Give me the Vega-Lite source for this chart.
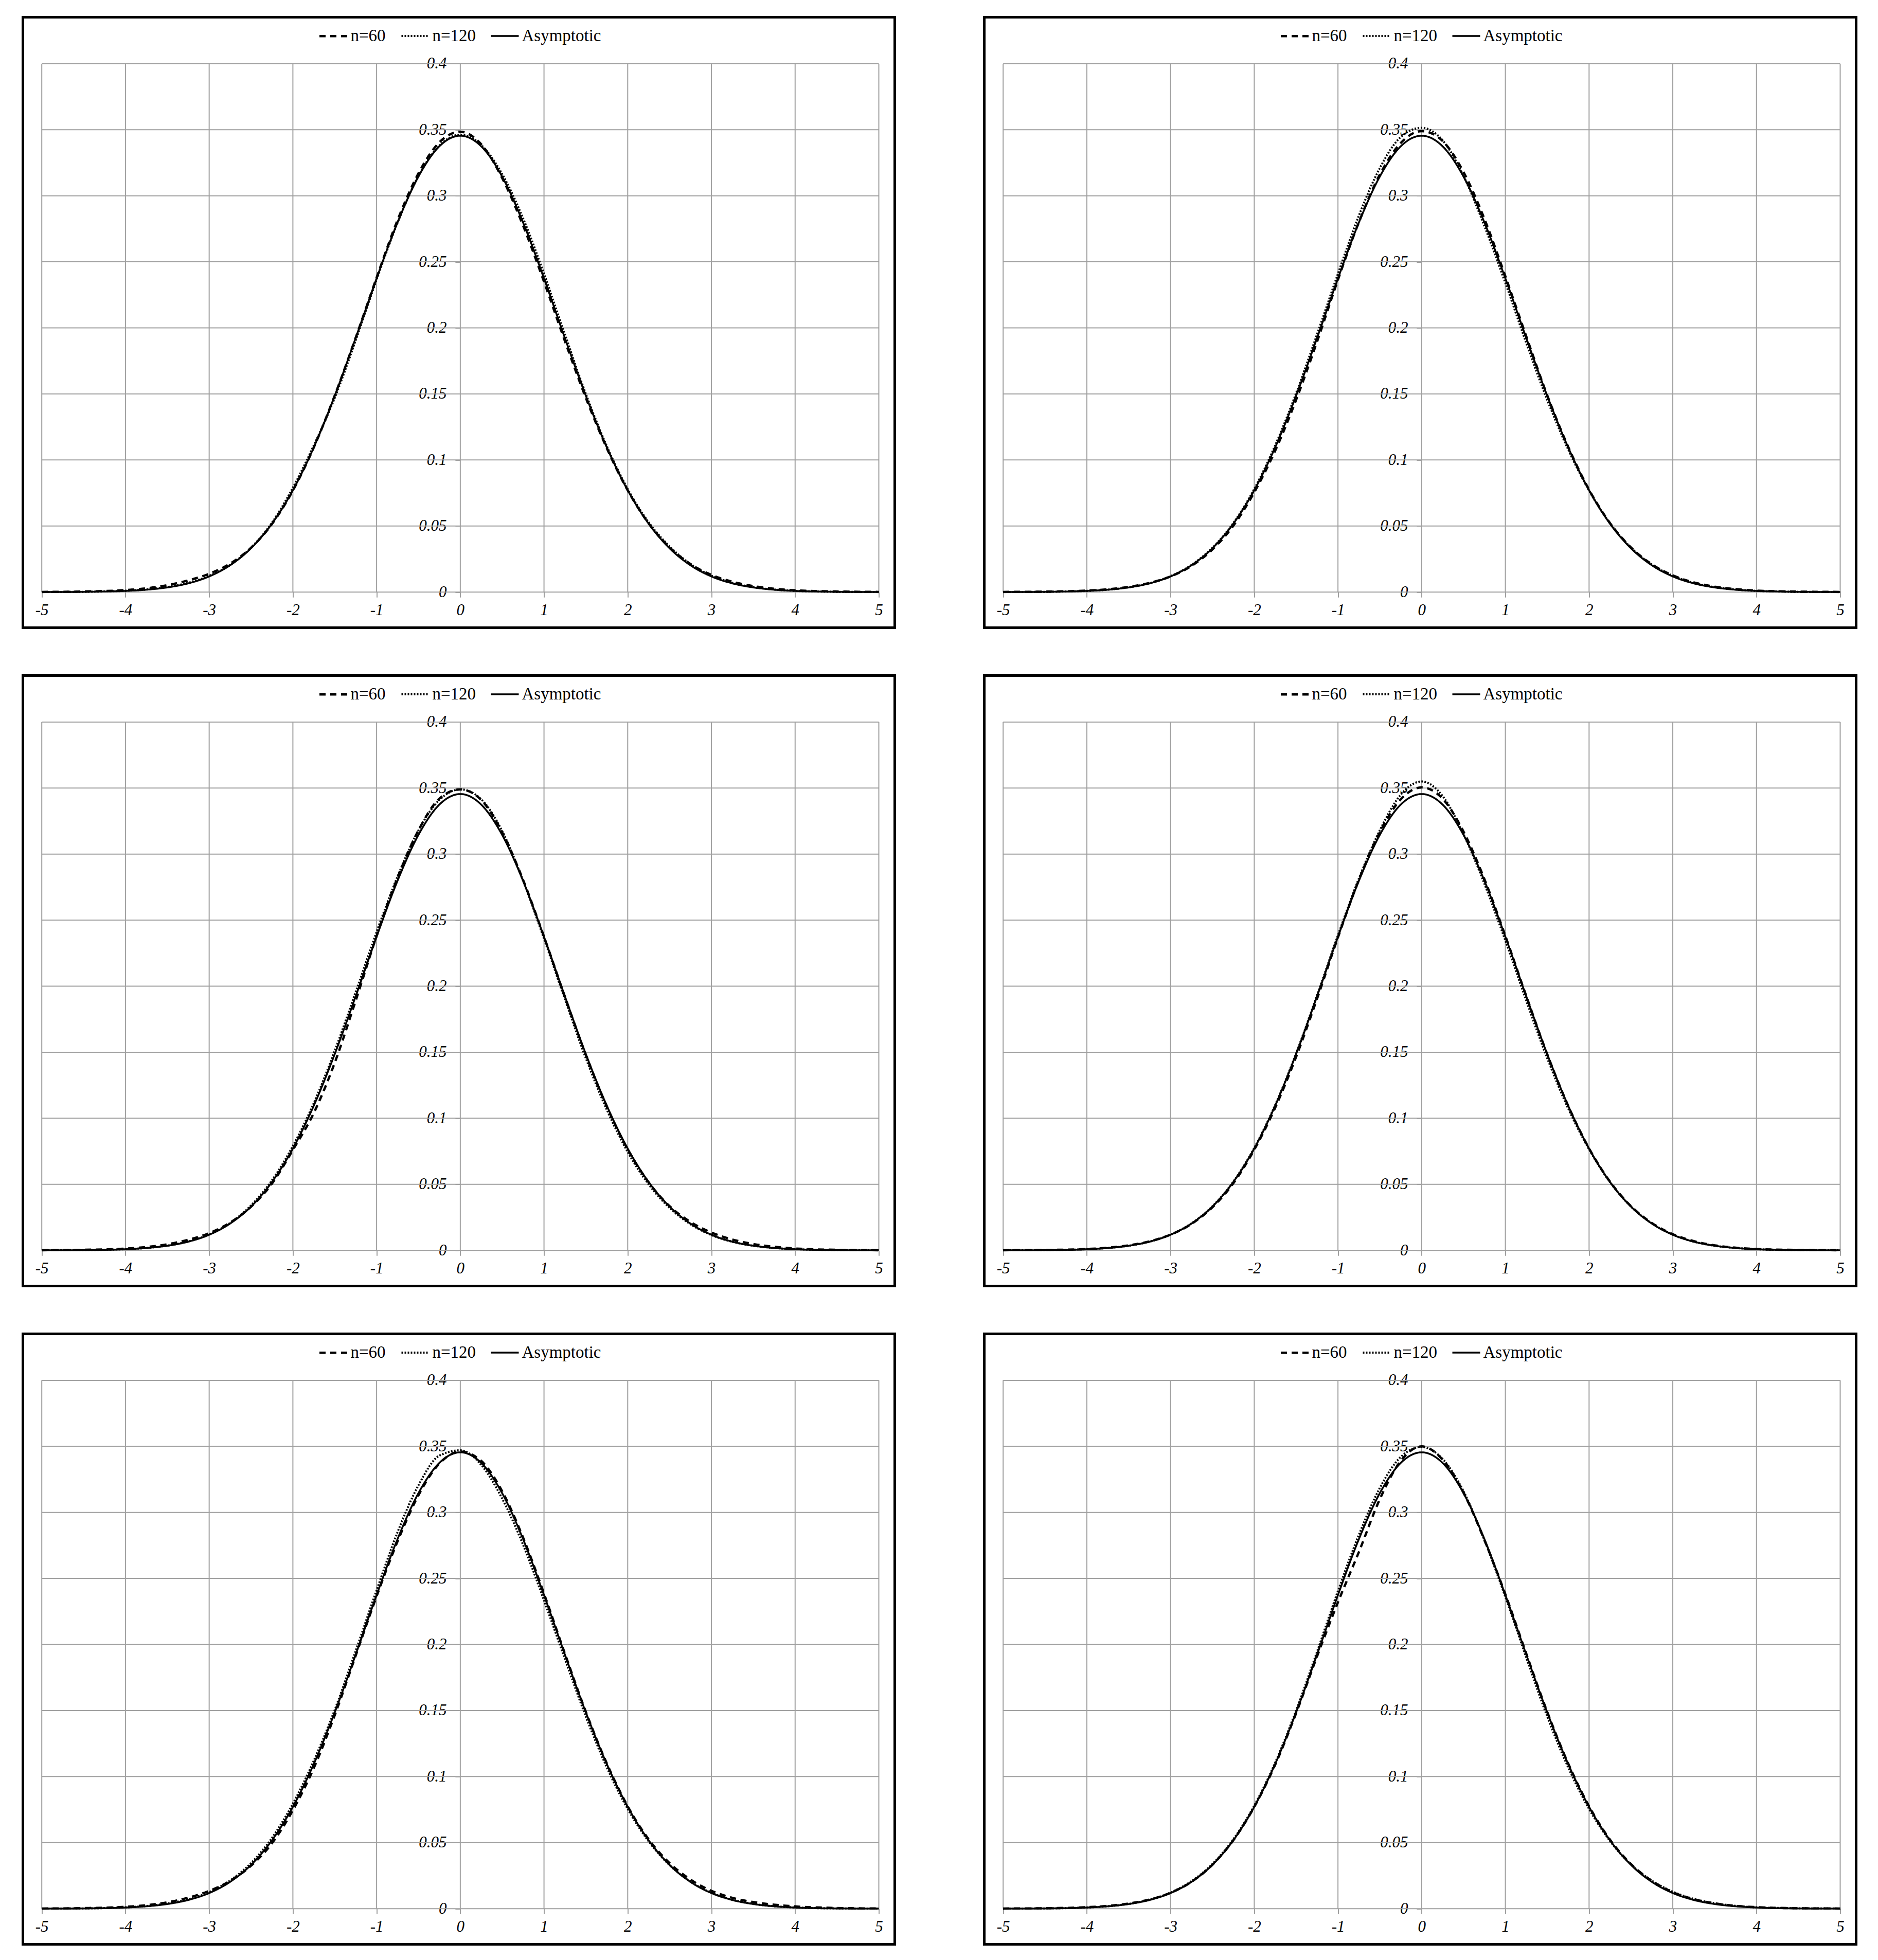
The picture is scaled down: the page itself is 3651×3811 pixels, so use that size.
{
"$schema":"https://vega.github.io/schema/vega-lite/v6.json",
"padding":{"left":41.5,"top":30.5,"right":0,"bottom":0},
"background":"white",
"datasets":{
"grid":[
{"x1":-5,"x2":-5,"y1":0,"y2":0.4},{"x1":-4,"x2":-4,"y1":0,"y2":0.4},{"x1":-3,"x2":-3,"y1":0,"y2":0.4},{"x1":-2,"x2":-2,"y1":0,"y2":0.4},{"x1":-1,"x2":-1,"y1":0,"y2":0.4},{"x1":0,"x2":0,"y1":0,"y2":0.4},{"x1":1,"x2":1,"y1":0,"y2":0.4},{"x1":2,"x2":2,"y1":0,"y2":0.4},{"x1":3,"x2":3,"y1":0,"y2":0.4},{"x1":4,"x2":4,"y1":0,"y2":0.4},{"x1":5,"x2":5,"y1":0,"y2":0.4},
{"x1":-5,"x2":5,"y1":0,"y2":0},{"x1":-5,"x2":5,"y1":0.05,"y2":0.05},{"x1":-5,"x2":5,"y1":0.1,"y2":0.1},{"x1":-5,"x2":5,"y1":0.15,"y2":0.15},{"x1":-5,"x2":5,"y1":0.2,"y2":0.2},{"x1":-5,"x2":5,"y1":0.25,"y2":0.25},{"x1":-5,"x2":5,"y1":0.3,"y2":0.3},{"x1":-5,"x2":5,"y1":0.35,"y2":0.35},{"x1":-5,"x2":5,"y1":0.4,"y2":0.4}
],
"curves":[
{"p":1,"x":-5,"n=60":0.0001,"n=120":0.00005,"Asymptotic":0.00003},
{"p":1,"x":-4.5,"n=60":0.0004,"n=120":0.0002,"Asymptotic":0.00017},
{"p":1,"x":-4,"n=60":0.0015,"n=120":0.001,"Asymptotic":0.00086},
{"p":1,"x":-3.75,"n=60":0.0028,"n=120":0.002,"Asymptotic":0.00177},
{"p":1,"x":-3.5,"n=60":0.0052,"n=120":0.0038,"Asymptotic":0.00349},
{"p":1,"x":-3.25,"n=60":0.0088,"n=120":0.007,"Asymptotic":0.00658},
{"p":1,"x":-3,"n=60":0.0138,"n=120":0.0122,"Asymptotic":0.01182},
{"p":1,"x":-2.75,"n=60":0.0215,"n=120":0.0205,"Asymptotic":0.02027},
{"p":1,"x":-2.5,"n=60":0.0335,"n=120":0.0335,"Asymptotic":0.03316},
{"p":1,"x":-2.25,"n=60":0.0515,"n=120":0.0525,"Asymptotic":0.05176},
{"p":1,"x":-2,"n=60":0.0768,"n=120":0.079,"Asymptotic":0.07709},
{"p":1,"x":-1.75,"n=60":0.1095,"n=120":0.111,"Asymptotic":0.10957},
{"p":1,"x":-1.5,"n=60":0.1488,"n=120":0.147,"Asymptotic":0.1486},
{"p":1,"x":-1.25,"n=60":0.1925,"n=120":0.1905,"Asymptotic":0.1923},
{"p":1,"x":-1,"n=60":0.238,"n=120":0.2365,"Asymptotic":0.23745},
{"p":1,"x":-0.75,"n=60":0.2815,"n=120":0.2795,"Asymptotic":0.27978},
{"p":1,"x":-0.5,"n=60":0.317,"n=120":0.315,"Asymptotic":0.31457},
{"p":1,"x":-0.25,"n=60":0.3405,"n=120":0.338,"Asymptotic":0.33749},
{"p":1,"x":0,"n=60":0.3485,"n=120":0.3462,"Asymptotic":0.34549},
{"p":1,"x":0.25,"n=60":0.339,"n=120":0.3385,"Asymptotic":0.33749},
{"p":1,"x":0.5,"n=60":0.3135,"n=120":0.3165,"Asymptotic":0.31457},
{"p":1,"x":0.75,"n=60":0.2775,"n=120":0.283,"Asymptotic":0.27978},
{"p":1,"x":1,"n=60":0.235,"n=120":0.241,"Asymptotic":0.23745},
{"p":1,"x":1.25,"n=60":0.19,"n=120":0.195,"Asymptotic":0.1923},
{"p":1,"x":1.5,"n=60":0.147,"n=120":0.15,"Asymptotic":0.1486},
{"p":1,"x":1.75,"n=60":0.109,"n=120":0.1105,"Asymptotic":0.10957},
{"p":1,"x":2,"n=60":0.077,"n=120":0.078,"Asymptotic":0.07709},
{"p":1,"x":2.25,"n=60":0.052,"n=120":0.0528,"Asymptotic":0.05176},
{"p":1,"x":2.5,"n=60":0.0338,"n=120":0.0345,"Asymptotic":0.03316},
{"p":1,"x":2.75,"n=60":0.0212,"n=120":0.0212,"Asymptotic":0.02027},
{"p":1,"x":3,"n=60":0.013,"n=120":0.0124,"Asymptotic":0.01182},
{"p":1,"x":3.25,"n=60":0.0078,"n=120":0.007,"Asymptotic":0.00658},
{"p":1,"x":3.5,"n=60":0.0045,"n=120":0.0037,"Asymptotic":0.00349},
{"p":1,"x":3.75,"n=60":0.0025,"n=120":0.0019,"Asymptotic":0.00177},
{"p":1,"x":4,"n=60":0.0013,"n=120":0.0009,"Asymptotic":0.00086},
{"p":1,"x":4.5,"n=60":0.0004,"n=120":0.0002,"Asymptotic":0.00017},
{"p":1,"x":5,"n=60":0.0001,"n=120":0.00005,"Asymptotic":0.00003},

{"p":2,"x":-5,"n=60":0.0001,"n=120":0.00005,"Asymptotic":0.00003},
{"p":2,"x":-4.5,"n=60":0.0003,"n=120":0.0002,"Asymptotic":0.00017},
{"p":2,"x":-4,"n=60":0.0011,"n=120":0.0009,"Asymptotic":0.00086},
{"p":2,"x":-3.75,"n=60":0.0021,"n=120":0.0018,"Asymptotic":0.00177},
{"p":2,"x":-3.5,"n=60":0.0039,"n=120":0.0036,"Asymptotic":0.00349},
{"p":2,"x":-3.25,"n=60":0.0069,"n=120":0.0067,"Asymptotic":0.00658},
{"p":2,"x":-3,"n=60":0.0118,"n=120":0.012,"Asymptotic":0.01182},
{"p":2,"x":-2.75,"n=60":0.0198,"n=120":0.0205,"Asymptotic":0.02027},
{"p":2,"x":-2.5,"n=60":0.0322,"n=120":0.0335,"Asymptotic":0.03316},
{"p":2,"x":-2.25,"n=60":0.0502,"n=120":0.0522,"Asymptotic":0.05176},
{"p":2,"x":-2,"n=60":0.0755,"n=120":0.078,"Asymptotic":0.07709},
{"p":2,"x":-1.75,"n=60":0.107,"n=120":0.111,"Asymptotic":0.10957},
{"p":2,"x":-1.5,"n=60":0.1455,"n=120":0.1505,"Asymptotic":0.1486},
{"p":2,"x":-1.25,"n=60":0.1895,"n=120":0.195,"Asymptotic":0.1923},
{"p":2,"x":-1,"n=60":0.2365,"n=120":0.241,"Asymptotic":0.23745},
{"p":2,"x":-0.75,"n=60":0.28,"n=120":0.285,"Asymptotic":0.27978},
{"p":2,"x":-0.5,"n=60":0.316,"n=120":0.321,"Asymptotic":0.31457},
{"p":2,"x":-0.25,"n=60":0.34,"n=120":0.3445,"Asymptotic":0.33749},
{"p":2,"x":0,"n=60":0.349,"n=120":0.3515,"Asymptotic":0.34549},
{"p":2,"x":0.25,"n=60":0.3415,"n=120":0.342,"Asymptotic":0.33749},
{"p":2,"x":0.5,"n=60":0.318,"n=120":0.315,"Asymptotic":0.31457},
{"p":2,"x":0.75,"n=60":0.2825,"n=120":0.277,"Asymptotic":0.27978},
{"p":2,"x":1,"n=60":0.239,"n=120":0.234,"Asymptotic":0.23745},
{"p":2,"x":1.25,"n=60":0.1935,"n=120":0.1885,"Asymptotic":0.1923},
{"p":2,"x":1.5,"n=60":0.149,"n=120":0.1455,"Asymptotic":0.1486},
{"p":2,"x":1.75,"n=60":0.11,"n=120":0.108,"Asymptotic":0.10957},
{"p":2,"x":2,"n=60":0.0775,"n=120":0.0768,"Asymptotic":0.07709},
{"p":2,"x":2.25,"n=60":0.0522,"n=120":0.052,"Asymptotic":0.05176},
{"p":2,"x":2.5,"n=60":0.0338,"n=120":0.0336,"Asymptotic":0.03316},
{"p":2,"x":2.75,"n=60":0.021,"n=120":0.0208,"Asymptotic":0.02027},
{"p":2,"x":3,"n=60":0.0126,"n=120":0.0123,"Asymptotic":0.01182},
{"p":2,"x":3.25,"n=60":0.0073,"n=120":0.0069,"Asymptotic":0.00658},
{"p":2,"x":3.5,"n=60":0.0041,"n=120":0.0037,"Asymptotic":0.00349},
{"p":2,"x":3.75,"n=60":0.0022,"n=120":0.0019,"Asymptotic":0.00177},
{"p":2,"x":4,"n=60":0.0011,"n=120":0.0009,"Asymptotic":0.00086},
{"p":2,"x":4.5,"n=60":0.0003,"n=120":0.0002,"Asymptotic":0.00017},
{"p":2,"x":5,"n=60":0.0001,"n=120":0.00005,"Asymptotic":0.00003},

{"p":3,"x":-5,"n=60":0.0001,"n=120":0.00005,"Asymptotic":0.00003},
{"p":3,"x":-4.5,"n=60":0.0004,"n=120":0.0002,"Asymptotic":0.00017},
{"p":3,"x":-4,"n=60":0.0013,"n=120":0.0009,"Asymptotic":0.00086},
{"p":3,"x":-3.75,"n=60":0.0025,"n=120":0.0018,"Asymptotic":0.00177},
{"p":3,"x":-3.5,"n=60":0.0046,"n=120":0.0036,"Asymptotic":0.00349},
{"p":3,"x":-3.25,"n=60":0.008,"n=120":0.0067,"Asymptotic":0.00658},
{"p":3,"x":-3,"n=60":0.013,"n=120":0.012,"Asymptotic":0.01182},
{"p":3,"x":-2.75,"n=60":0.021,"n=120":0.0207,"Asymptotic":0.02027},
{"p":3,"x":-2.5,"n=60":0.033,"n=120":0.034,"Asymptotic":0.03316},
{"p":3,"x":-2.25,"n=60":0.0505,"n=120":0.053,"Asymptotic":0.05176},
{"p":3,"x":-2,"n=60":0.076,"n=120":0.079,"Asymptotic":0.07709},
{"p":3,"x":-1.75,"n=60":0.104,"n=120":0.1115,"Asymptotic":0.10957},
{"p":3,"x":-1.5,"n=60":0.142,"n=120":0.151,"Asymptotic":0.1486},
{"p":3,"x":-1.25,"n=60":0.189,"n=120":0.1955,"Asymptotic":0.1923},
{"p":3,"x":-1,"n=60":0.238,"n=120":0.241,"Asymptotic":0.23745},
{"p":3,"x":-0.75,"n=60":0.282,"n=120":0.283,"Asymptotic":0.27978},
{"p":3,"x":-0.5,"n=60":0.318,"n=120":0.318,"Asymptotic":0.31457},
{"p":3,"x":-0.25,"n=60":0.342,"n=120":0.341,"Asymptotic":0.33749},
{"p":3,"x":0,"n=60":0.349,"n=120":0.349,"Asymptotic":0.34549},
{"p":3,"x":0.25,"n=60":0.341,"n=120":0.3415,"Asymptotic":0.33749},
{"p":3,"x":0.5,"n=60":0.3165,"n=120":0.3175,"Asymptotic":0.31457},
{"p":3,"x":0.75,"n=60":0.2805,"n=120":0.28,"Asymptotic":0.27978},
{"p":3,"x":1,"n=60":0.2375,"n=120":0.236,"Asymptotic":0.23745},
{"p":3,"x":1.25,"n=60":0.192,"n=120":0.19,"Asymptotic":0.1923},
{"p":3,"x":1.5,"n=60":0.148,"n=120":0.1455,"Asymptotic":0.1486},
{"p":3,"x":1.75,"n=60":0.109,"n=120":0.1065,"Asymptotic":0.10957},
{"p":3,"x":2,"n=60":0.0765,"n=120":0.0745,"Asymptotic":0.07709},
{"p":3,"x":2.25,"n=60":0.0515,"n=120":0.05,"Asymptotic":0.05176},
{"p":3,"x":2.5,"n=60":0.0335,"n=120":0.0322,"Asymptotic":0.03316},
{"p":3,"x":2.75,"n=60":0.0215,"n=120":0.0198,"Asymptotic":0.02027},
{"p":3,"x":3,"n=60":0.0135,"n=120":0.0116,"Asymptotic":0.01182},
{"p":3,"x":3.25,"n=60":0.0082,"n=120":0.0065,"Asymptotic":0.00658},
{"p":3,"x":3.5,"n=60":0.0048,"n=120":0.0035,"Asymptotic":0.00349},
{"p":3,"x":3.75,"n=60":0.0027,"n=120":0.0018,"Asymptotic":0.00177},
{"p":3,"x":4,"n=60":0.0014,"n=120":0.0009,"Asymptotic":0.00086},
{"p":3,"x":4.5,"n=60":0.0004,"n=120":0.0002,"Asymptotic":0.00017},
{"p":3,"x":5,"n=60":0.0001,"n=120":0.00005,"Asymptotic":0.00003},

{"p":4,"x":-5,"n=60":0.0001,"n=120":0.00005,"Asymptotic":0.00003},
{"p":4,"x":-4.5,"n=60":0.0003,"n=120":0.0002,"Asymptotic":0.00017},
{"p":4,"x":-4,"n=60":0.001,"n=120":0.0009,"Asymptotic":0.00086},
{"p":4,"x":-3.75,"n=60":0.002,"n=120":0.0018,"Asymptotic":0.00177},
{"p":4,"x":-3.5,"n=60":0.0038,"n=120":0.0035,"Asymptotic":0.00349},
{"p":4,"x":-3.25,"n=60":0.0068,"n=120":0.0066,"Asymptotic":0.00658},
{"p":4,"x":-3,"n=60":0.0119,"n=120":0.0119,"Asymptotic":0.01182},
{"p":4,"x":-2.75,"n=60":0.02,"n=120":0.0204,"Asymptotic":0.02027},
{"p":4,"x":-2.5,"n=60":0.0326,"n=120":0.0333,"Asymptotic":0.03316},
{"p":4,"x":-2.25,"n=60":0.0508,"n=120":0.052,"Asymptotic":0.05176},
{"p":4,"x":-2,"n=60":0.0762,"n=120":0.0775,"Asymptotic":0.07709},
{"p":4,"x":-1.75,"n=60":0.108,"n=120":0.11,"Asymptotic":0.10957},
{"p":4,"x":-1.5,"n=60":0.1465,"n=120":0.149,"Asymptotic":0.1486},
{"p":4,"x":-1.25,"n=60":0.1905,"n=120":0.193,"Asymptotic":0.1923},
{"p":4,"x":-1,"n=60":0.237,"n=120":0.2385,"Asymptotic":0.23745},
{"p":4,"x":-0.75,"n=60":0.2805,"n=120":0.2815,"Asymptotic":0.27978},
{"p":4,"x":-0.5,"n=60":0.3165,"n=120":0.318,"Asymptotic":0.31457},
{"p":4,"x":-0.25,"n=60":0.3415,"n=120":0.345,"Asymptotic":0.33749},
{"p":4,"x":0,"n=60":0.3505,"n=120":0.355,"Asymptotic":0.34549},
{"p":4,"x":0.25,"n=60":0.342,"n=120":0.344,"Asymptotic":0.33749},
{"p":4,"x":0.5,"n=60":0.317,"n=120":0.315,"Asymptotic":0.31457},
{"p":4,"x":0.75,"n=60":0.281,"n=120":0.2775,"Asymptotic":0.27978},
{"p":4,"x":1,"n=60":0.238,"n=120":0.2345,"Asymptotic":0.23745},
{"p":4,"x":1.25,"n=60":0.1925,"n=120":0.189,"Asymptotic":0.1923},
{"p":4,"x":1.5,"n=60":0.1485,"n=120":0.1455,"Asymptotic":0.1486},
{"p":4,"x":1.75,"n=60":0.1095,"n=120":0.1075,"Asymptotic":0.10957},
{"p":4,"x":2,"n=60":0.0772,"n=120":0.0765,"Asymptotic":0.07709},
{"p":4,"x":2.25,"n=60":0.052,"n=120":0.0516,"Asymptotic":0.05176},
{"p":4,"x":2.5,"n=60":0.0335,"n=120":0.0332,"Asymptotic":0.03316},
{"p":4,"x":2.75,"n=60":0.0207,"n=120":0.0204,"Asymptotic":0.02027},
{"p":4,"x":3,"n=60":0.0122,"n=120":0.0119,"Asymptotic":0.01182},
{"p":4,"x":3.25,"n=60":0.007,"n=120":0.0066,"Asymptotic":0.00658},
{"p":4,"x":3.5,"n=60":0.0038,"n=120":0.0035,"Asymptotic":0.00349},
{"p":4,"x":3.75,"n=60":0.002,"n=120":0.0018,"Asymptotic":0.00177},
{"p":4,"x":4,"n=60":0.001,"n=120":0.0009,"Asymptotic":0.00086},
{"p":4,"x":4.5,"n=60":0.0003,"n=120":0.0002,"Asymptotic":0.00017},
{"p":4,"x":5,"n=60":0.0001,"n=120":0.00005,"Asymptotic":0.00003},

{"p":5,"x":-5,"n=60":0.0001,"n=120":0.00005,"Asymptotic":0.00003},
{"p":5,"x":-4.5,"n=60":0.0004,"n=120":0.0002,"Asymptotic":0.00017},
{"p":5,"x":-4,"n=60":0.0014,"n=120":0.001,"Asymptotic":0.00086},
{"p":5,"x":-3.75,"n=60":0.0026,"n=120":0.002,"Asymptotic":0.00177},
{"p":5,"x":-3.5,"n=60":0.0048,"n=120":0.0039,"Asymptotic":0.00349},
{"p":5,"x":-3.25,"n=60":0.0083,"n=120":0.0071,"Asymptotic":0.00658},
{"p":5,"x":-3,"n=60":0.0134,"n=120":0.0125,"Asymptotic":0.01182},
{"p":5,"x":-2.75,"n=60":0.021,"n=120":0.0213,"Asymptotic":0.02027},
{"p":5,"x":-2.5,"n=60":0.0325,"n=120":0.0345,"Asymptotic":0.03316},
{"p":5,"x":-2.25,"n=60":0.0495,"n=120":0.0535,"Asymptotic":0.05176},
{"p":5,"x":-2,"n=60":0.0745,"n=120":0.0795,"Asymptotic":0.07709},
{"p":5,"x":-1.75,"n=60":0.1065,"n=120":0.112,"Asymptotic":0.10957},
{"p":5,"x":-1.5,"n=60":0.1465,"n=120":0.1505,"Asymptotic":0.1486},
{"p":5,"x":-1.25,"n=60":0.1915,"n=120":0.195,"Asymptotic":0.1923},
{"p":5,"x":-1,"n=60":0.2365,"n=120":0.241,"Asymptotic":0.23745},
{"p":5,"x":-0.75,"n=60":0.278,"n=120":0.285,"Asymptotic":0.27978},
{"p":5,"x":-0.5,"n=60":0.313,"n=120":0.3205,"Asymptotic":0.31457},
{"p":5,"x":-0.25,"n=60":0.337,"n=120":0.343,"Asymptotic":0.33749},
{"p":5,"x":0,"n=60":0.346,"n=120":0.347,"Asymptotic":0.34549},
{"p":5,"x":0.25,"n=60":0.339,"n=120":0.336,"Asymptotic":0.33749},
{"p":5,"x":0.5,"n=60":0.316,"n=120":0.3105,"Asymptotic":0.31457},
{"p":5,"x":0.75,"n=60":0.281,"n=120":0.2755,"Asymptotic":0.27978},
{"p":5,"x":1,"n=60":0.2385,"n=120":0.2335,"Asymptotic":0.23745},
{"p":5,"x":1.25,"n=60":0.193,"n=120":0.189,"Asymptotic":0.1923},
{"p":5,"x":1.5,"n=60":0.149,"n=120":0.1455,"Asymptotic":0.1486},
{"p":5,"x":1.75,"n=60":0.11,"n=120":0.107,"Asymptotic":0.10957},
{"p":5,"x":2,"n=60":0.0775,"n=120":0.0755,"Asymptotic":0.07709},
{"p":5,"x":2.25,"n=60":0.0525,"n=120":0.051,"Asymptotic":0.05176},
{"p":5,"x":2.5,"n=60":0.0345,"n=120":0.033,"Asymptotic":0.03316},
{"p":5,"x":2.75,"n=60":0.022,"n=120":0.0204,"Asymptotic":0.02027},
{"p":5,"x":3,"n=60":0.0135,"n=120":0.012,"Asymptotic":0.01182},
{"p":5,"x":3.25,"n=60":0.0082,"n=120":0.0067,"Asymptotic":0.00658},
{"p":5,"x":3.5,"n=60":0.005,"n=120":0.0036,"Asymptotic":0.00349},
{"p":5,"x":3.75,"n=60":0.003,"n=120":0.0018,"Asymptotic":0.00177},
{"p":5,"x":4,"n=60":0.0017,"n=120":0.0009,"Asymptotic":0.00086},
{"p":5,"x":4.5,"n=60":0.0005,"n=120":0.0002,"Asymptotic":0.00017},
{"p":5,"x":5,"n=60":0.0001,"n=120":0.00005,"Asymptotic":0.00003},

{"p":6,"x":-5,"n=60":0.0001,"n=120":0.00005,"Asymptotic":0.00003},
{"p":6,"x":-4.5,"n=60":0.0003,"n=120":0.0002,"Asymptotic":0.00017},
{"p":6,"x":-4,"n=60":0.0011,"n=120":0.0009,"Asymptotic":0.00086},
{"p":6,"x":-3.75,"n=60":0.0021,"n=120":0.0018,"Asymptotic":0.00177},
{"p":6,"x":-3.5,"n=60":0.0039,"n=120":0.0036,"Asymptotic":0.00349},
{"p":6,"x":-3.25,"n=60":0.0069,"n=120":0.0068,"Asymptotic":0.00658},
{"p":6,"x":-3,"n=60":0.012,"n=120":0.0122,"Asymptotic":0.01182},
{"p":6,"x":-2.75,"n=60":0.0203,"n=120":0.0208,"Asymptotic":0.02027},
{"p":6,"x":-2.5,"n=60":0.0332,"n=120":0.0338,"Asymptotic":0.03316},
{"p":6,"x":-2.25,"n=60":0.0518,"n=120":0.0525,"Asymptotic":0.05176},
{"p":6,"x":-2,"n=60":0.077,"n=120":0.078,"Asymptotic":0.07709},
{"p":6,"x":-1.75,"n=60":0.109,"n=120":0.1105,"Asymptotic":0.10957},
{"p":6,"x":-1.5,"n=60":0.148,"n=120":0.15,"Asymptotic":0.1486},
{"p":6,"x":-1.25,"n=60":0.191,"n=120":0.1945,"Asymptotic":0.1923},
{"p":6,"x":-1,"n=60":0.232,"n=120":0.2405,"Asymptotic":0.23745},
{"p":6,"x":-0.75,"n=60":0.27,"n=120":0.283,"Asymptotic":0.27978},
{"p":6,"x":-0.5,"n=60":0.31,"n=120":0.3185,"Asymptotic":0.31457},
{"p":6,"x":-0.25,"n=60":0.339,"n=120":0.342,"Asymptotic":0.33749},
{"p":6,"x":0,"n=60":0.35,"n=120":0.3495,"Asymptotic":0.34549},
{"p":6,"x":0.25,"n=60":0.34,"n=120":0.3405,"Asymptotic":0.33749},
{"p":6,"x":0.5,"n=60":0.315,"n=120":0.316,"Asymptotic":0.31457},
{"p":6,"x":0.75,"n=60":0.279,"n=120":0.279,"Asymptotic":0.27978},
{"p":6,"x":1,"n=60":0.238,"n=120":0.236,"Asymptotic":0.23745},
{"p":6,"x":1.25,"n=60":0.193,"n=120":0.19,"Asymptotic":0.1923},
{"p":6,"x":1.5,"n=60":0.149,"n=120":0.1455,"Asymptotic":0.1486},
{"p":6,"x":1.75,"n=60":0.11,"n=120":0.107,"Asymptotic":0.10957},
{"p":6,"x":2,"n=60":0.0775,"n=120":0.0755,"Asymptotic":0.07709},
{"p":6,"x":2.25,"n=60":0.0522,"n=120":0.0512,"Asymptotic":0.05176},
{"p":6,"x":2.5,"n=60":0.0338,"n=120":0.0335,"Asymptotic":0.03316},
{"p":6,"x":2.75,"n=60":0.021,"n=120":0.0212,"Asymptotic":0.02027},
{"p":6,"x":3,"n=60":0.0125,"n=120":0.0128,"Asymptotic":0.01182},
{"p":6,"x":3.25,"n=60":0.0072,"n=120":0.0074,"Asymptotic":0.00658},
{"p":6,"x":3.5,"n=60":0.004,"n=120":0.0041,"Asymptotic":0.00349},
{"p":6,"x":3.75,"n=60":0.0021,"n=120":0.0021,"Asymptotic":0.00177},
{"p":6,"x":4,"n=60":0.0011,"n=120":0.001,"Asymptotic":0.00086},
{"p":6,"x":4.5,"n=60":0.0003,"n=120":0.0003,"Asymptotic":0.00017},
{"p":6,"x":5,"n=60":0.0001,"n=120":0.0001,"Asymptotic":0.00003}
]
},
"columns":2,
"spacing":{"row":87,"column":168},
"resolve":{"scale":{"strokeDash":"independent","strokeWidth":"independent"},"legend":{"strokeDash":"independent","strokeWidth":"independent"}},
"concat":[
{"width":1695,"height":1187,"layer":[
{"data":{"name":"grid"},"mark":{"type":"rule","color":"#a0a0a0","strokeWidth":2},"encoding":{"x":{"field":"x1","type":"quantitative","scale":{"domain":[-5.2255,5.1905],"nice":false,"zero":false},"axis":{"values":[-5,-4,-3,-2,-1,0,1,2,3,4,5],"offset":-69.3,"domain":false,"grid":false,"tickSize":10,"tickColor":"#a0a0a0","tickWidth":2,"labelFont":"Liberation Serif","labelFontStyle":"italic","labelFontSize":31,"labelColor":"black","labelPadding":10,"labelExpr":"''+datum.value","title":null,"labelOverlap":false,"labelFlush":false}},"x2":{"field":"x2"},"y":{"field":"y1","type":"quantitative","scale":{"domain":[-0.027,0.4352],"nice":false,"zero":false},"axis":{"values":[0,0.05,0.1,0.15,0.2,0.25,0.3,0.35,0.4],"offset":-850.4,"domain":false,"grid":false,"tickSize":10,"tickColor":"#a0a0a0","tickWidth":2,"labelFont":"Liberation Serif","labelFontStyle":"italic","labelFontSize":31,"labelColor":"black","labelPadding":17,"labelExpr":"''+datum.value","title":null,"labelOverlap":false,"labelFlush":false}},"y2":{"field":"y2"}}},
{"data":{"name":"curves"},"transform":[{"filter":"datum.p==1"},{"fold":["n=60","n=120","Asymptotic"],"as":["series","y"]}],"mark":{"type":"line","color":"black","interpolate":"monotone","strokeCap":"butt"},"encoding":{
"x":{"field":"x","type":"quantitative"},
"y":{"field":"y","type":"quantitative"},
"strokeDash":{"field":"series","type":"nominal","scale":{"domain":["n=60","n=120","Asymptotic"],"range":[[12,9],[3,3],[1,0]]},"legend":{"title":null,"orient":"none","legendX":574,"legendY":7,"direction":"horizontal"}},
"strokeWidth":{"field":"series","type":"nominal","scale":{"domain":["n=60","n=120","Asymptotic"],"range":[4.5,3.5,6]},"legend":{"title":null,"orient":"none","legendX":574,"legendY":7,"direction":"horizontal"}}}}
]},
{"width":1695,"height":1187,"layer":[
{"data":{"name":"grid"},"mark":{"type":"rule","color":"#a0a0a0","strokeWidth":2},"encoding":{"x":{"field":"x1","type":"quantitative","scale":{"domain":[-5.2255,5.1905],"nice":false,"zero":false},"axis":{"values":[-5,-4,-3,-2,-1,0,1,2,3,4,5],"offset":-69.3,"domain":false,"grid":false,"tickSize":10,"tickColor":"#a0a0a0","tickWidth":2,"labelFont":"Liberation Serif","labelFontStyle":"italic","labelFontSize":31,"labelColor":"black","labelPadding":10,"labelExpr":"''+datum.value","title":null,"labelOverlap":false,"labelFlush":false}},"x2":{"field":"x2"},"y":{"field":"y1","type":"quantitative","scale":{"domain":[-0.027,0.4352],"nice":false,"zero":false},"axis":{"values":[0,0.05,0.1,0.15,0.2,0.25,0.3,0.35,0.4],"offset":-850.4,"domain":false,"grid":false,"tickSize":10,"tickColor":"#a0a0a0","tickWidth":2,"labelFont":"Liberation Serif","labelFontStyle":"italic","labelFontSize":31,"labelColor":"black","labelPadding":17,"labelExpr":"''+datum.value","title":null,"labelOverlap":false,"labelFlush":false}},"y2":{"field":"y2"}}},
{"data":{"name":"curves"},"transform":[{"filter":"datum.p==2"},{"fold":["n=60","n=120","Asymptotic"],"as":["series","y"]}],"mark":{"type":"line","color":"black","interpolate":"monotone","strokeCap":"butt"},"encoding":{
"x":{"field":"x","type":"quantitative"},
"y":{"field":"y","type":"quantitative"},
"strokeDash":{"field":"series","type":"nominal","scale":{"domain":["n=60","n=120","Asymptotic"],"range":[[12,9],[3,3],[1,0]]},"legend":{"title":null,"orient":"none","legendX":574,"legendY":7,"direction":"horizontal"}},
"strokeWidth":{"field":"series","type":"nominal","scale":{"domain":["n=60","n=120","Asymptotic"],"range":[4.5,3.5,6]},"legend":{"title":null,"orient":"none","legendX":574,"legendY":7,"direction":"horizontal"}}}}
]},
{"width":1695,"height":1187,"layer":[
{"data":{"name":"grid"},"mark":{"type":"rule","color":"#a0a0a0","strokeWidth":2},"encoding":{"x":{"field":"x1","type":"quantitative","scale":{"domain":[-5.2255,5.1905],"nice":false,"zero":false},"axis":{"values":[-5,-4,-3,-2,-1,0,1,2,3,4,5],"offset":-69.3,"domain":false,"grid":false,"tickSize":10,"tickColor":"#a0a0a0","tickWidth":2,"labelFont":"Liberation Serif","labelFontStyle":"italic","labelFontSize":31,"labelColor":"black","labelPadding":10,"labelExpr":"''+datum.value","title":null,"labelOverlap":false,"labelFlush":false}},"x2":{"field":"x2"},"y":{"field":"y1","type":"quantitative","scale":{"domain":[-0.027,0.4352],"nice":false,"zero":false},"axis":{"values":[0,0.05,0.1,0.15,0.2,0.25,0.3,0.35,0.4],"offset":-850.4,"domain":false,"grid":false,"tickSize":10,"tickColor":"#a0a0a0","tickWidth":2,"labelFont":"Liberation Serif","labelFontStyle":"italic","labelFontSize":31,"labelColor":"black","labelPadding":17,"labelExpr":"''+datum.value","title":null,"labelOverlap":false,"labelFlush":false}},"y2":{"field":"y2"}}},
{"data":{"name":"curves"},"transform":[{"filter":"datum.p==3"},{"fold":["n=60","n=120","Asymptotic"],"as":["series","y"]}],"mark":{"type":"line","color":"black","interpolate":"monotone","strokeCap":"butt"},"encoding":{
"x":{"field":"x","type":"quantitative"},
"y":{"field":"y","type":"quantitative"},
"strokeDash":{"field":"series","type":"nominal","scale":{"domain":["n=60","n=120","Asymptotic"],"range":[[12,9],[3,3],[1,0]]},"legend":{"title":null,"orient":"none","legendX":574,"legendY":7,"direction":"horizontal"}},
"strokeWidth":{"field":"series","type":"nominal","scale":{"domain":["n=60","n=120","Asymptotic"],"range":[4.5,3.5,6]},"legend":{"title":null,"orient":"none","legendX":574,"legendY":7,"direction":"horizontal"}}}}
]},
{"width":1695,"height":1187,"layer":[
{"data":{"name":"grid"},"mark":{"type":"rule","color":"#a0a0a0","strokeWidth":2},"encoding":{"x":{"field":"x1","type":"quantitative","scale":{"domain":[-5.2255,5.1905],"nice":false,"zero":false},"axis":{"values":[-5,-4,-3,-2,-1,0,1,2,3,4,5],"offset":-69.3,"domain":false,"grid":false,"tickSize":10,"tickColor":"#a0a0a0","tickWidth":2,"labelFont":"Liberation Serif","labelFontStyle":"italic","labelFontSize":31,"labelColor":"black","labelPadding":10,"labelExpr":"''+datum.value","title":null,"labelOverlap":false,"labelFlush":false}},"x2":{"field":"x2"},"y":{"field":"y1","type":"quantitative","scale":{"domain":[-0.027,0.4352],"nice":false,"zero":false},"axis":{"values":[0,0.05,0.1,0.15,0.2,0.25,0.3,0.35,0.4],"offset":-850.4,"domain":false,"grid":false,"tickSize":10,"tickColor":"#a0a0a0","tickWidth":2,"labelFont":"Liberation Serif","labelFontStyle":"italic","labelFontSize":31,"labelColor":"black","labelPadding":17,"labelExpr":"''+datum.value","title":null,"labelOverlap":false,"labelFlush":false}},"y2":{"field":"y2"}}},
{"data":{"name":"curves"},"transform":[{"filter":"datum.p==4"},{"fold":["n=60","n=120","Asymptotic"],"as":["series","y"]}],"mark":{"type":"line","color":"black","interpolate":"monotone","strokeCap":"butt"},"encoding":{
"x":{"field":"x","type":"quantitative"},
"y":{"field":"y","type":"quantitative"},
"strokeDash":{"field":"series","type":"nominal","scale":{"domain":["n=60","n=120","Asymptotic"],"range":[[12,9],[3,3],[1,0]]},"legend":{"title":null,"orient":"none","legendX":574,"legendY":7,"direction":"horizontal"}},
"strokeWidth":{"field":"series","type":"nominal","scale":{"domain":["n=60","n=120","Asymptotic"],"range":[4.5,3.5,6]},"legend":{"title":null,"orient":"none","legendX":574,"legendY":7,"direction":"horizontal"}}}}
]},
{"width":1695,"height":1187,"layer":[
{"data":{"name":"grid"},"mark":{"type":"rule","color":"#a0a0a0","strokeWidth":2},"encoding":{"x":{"field":"x1","type":"quantitative","scale":{"domain":[-5.2255,5.1905],"nice":false,"zero":false},"axis":{"values":[-5,-4,-3,-2,-1,0,1,2,3,4,5],"offset":-69.3,"domain":false,"grid":false,"tickSize":10,"tickColor":"#a0a0a0","tickWidth":2,"labelFont":"Liberation Serif","labelFontStyle":"italic","labelFontSize":31,"labelColor":"black","labelPadding":10,"labelExpr":"''+datum.value","title":null,"labelOverlap":false,"labelFlush":false}},"x2":{"field":"x2"},"y":{"field":"y1","type":"quantitative","scale":{"domain":[-0.027,0.4352],"nice":false,"zero":false},"axis":{"values":[0,0.05,0.1,0.15,0.2,0.25,0.3,0.35,0.4],"offset":-850.4,"domain":false,"grid":false,"tickSize":10,"tickColor":"#a0a0a0","tickWidth":2,"labelFont":"Liberation Serif","labelFontStyle":"italic","labelFontSize":31,"labelColor":"black","labelPadding":17,"labelExpr":"''+datum.value","title":null,"labelOverlap":false,"labelFlush":false}},"y2":{"field":"y2"}}},
{"data":{"name":"curves"},"transform":[{"filter":"datum.p==5"},{"fold":["n=60","n=120","Asymptotic"],"as":["series","y"]}],"mark":{"type":"line","color":"black","interpolate":"monotone","strokeCap":"butt"},"encoding":{
"x":{"field":"x","type":"quantitative"},
"y":{"field":"y","type":"quantitative"},
"strokeDash":{"field":"series","type":"nominal","scale":{"domain":["n=60","n=120","Asymptotic"],"range":[[12,9],[3,3],[1,0]]},"legend":{"title":null,"orient":"none","legendX":574,"legendY":7,"direction":"horizontal"}},
"strokeWidth":{"field":"series","type":"nominal","scale":{"domain":["n=60","n=120","Asymptotic"],"range":[4.5,3.5,6]},"legend":{"title":null,"orient":"none","legendX":574,"legendY":7,"direction":"horizontal"}}}}
]},
{"width":1695,"height":1187,"layer":[
{"data":{"name":"grid"},"mark":{"type":"rule","color":"#a0a0a0","strokeWidth":2},"encoding":{"x":{"field":"x1","type":"quantitative","scale":{"domain":[-5.2255,5.1905],"nice":false,"zero":false},"axis":{"values":[-5,-4,-3,-2,-1,0,1,2,3,4,5],"offset":-69.3,"domain":false,"grid":false,"tickSize":10,"tickColor":"#a0a0a0","tickWidth":2,"labelFont":"Liberation Serif","labelFontStyle":"italic","labelFontSize":31,"labelColor":"black","labelPadding":10,"labelExpr":"''+datum.value","title":null,"labelOverlap":false,"labelFlush":false}},"x2":{"field":"x2"},"y":{"field":"y1","type":"quantitative","scale":{"domain":[-0.027,0.4352],"nice":false,"zero":false},"axis":{"values":[0,0.05,0.1,0.15,0.2,0.25,0.3,0.35,0.4],"offset":-850.4,"domain":false,"grid":false,"tickSize":10,"tickColor":"#a0a0a0","tickWidth":2,"labelFont":"Liberation Serif","labelFontStyle":"italic","labelFontSize":31,"labelColor":"black","labelPadding":17,"labelExpr":"''+datum.value","title":null,"labelOverlap":false,"labelFlush":false}},"y2":{"field":"y2"}}},
{"data":{"name":"curves"},"transform":[{"filter":"datum.p==6"},{"fold":["n=60","n=120","Asymptotic"],"as":["series","y"]}],"mark":{"type":"line","color":"black","interpolate":"monotone","strokeCap":"butt"},"encoding":{
"x":{"field":"x","type":"quantitative"},
"y":{"field":"y","type":"quantitative"},
"strokeDash":{"field":"series","type":"nominal","scale":{"domain":["n=60","n=120","Asymptotic"],"range":[[12,9],[3,3],[1,0]]},"legend":{"title":null,"orient":"none","legendX":574,"legendY":7,"direction":"horizontal"}},
"strokeWidth":{"field":"series","type":"nominal","scale":{"domain":["n=60","n=120","Asymptotic"],"range":[4.5,3.5,6]},"legend":{"title":null,"orient":"none","legendX":574,"legendY":7,"direction":"horizontal"}}}}
]}
],
"config":{
"view":{"stroke":"black","strokeWidth":5},
"legend":{"labelFont":"Liberation Serif","labelFontSize":33,"labelColor":"black","symbolType":"stroke","symbolSize":2916,"symbolStrokeColor":"black","columnPadding":22,"labelOffset":4,"labelLimit":400}
}
}
